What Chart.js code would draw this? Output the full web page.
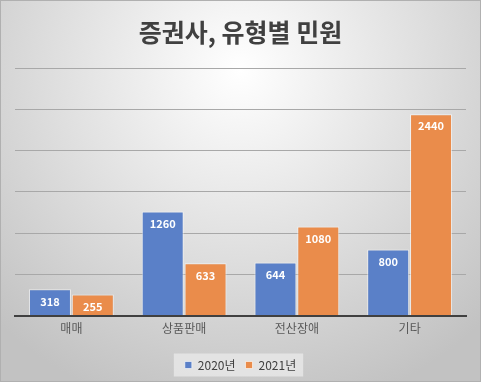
<!DOCTYPE html>
<html>
<head>
<meta charset="utf-8">
<script src="https://cdn.jsdelivr.net/npm/chart.js@4"></script>
<style>
  html, body { margin: 0; padding: 0; background: #fff; }
  #wrap { width: 481px; height: 382px; position: relative; }
</style>
</head>
<body>
<div id="wrap"><canvas id="c" width="481" height="382"></canvas></div>
<script>
const categories = ['매매', '상품판매', '전산장애', '기타'];
const seriesNames = ['2020년', '2021년'];
const values2020 = [318, 1260, 644, 800];
const values2021 = [255, 633, 1080, 2440];
const titleText = '증권사, 유형별 민원';

const bgPlugin = {
  id: 'bg',
  beforeDraw(chart) {
    const ctx = chart.ctx;
    const w = chart.width, h = chart.height;
    ctx.save();
    const g = ctx.createRadialGradient(240, 70, 0, 240, 70, 350);
    g.addColorStop(0, '#ffffff');
    g.addColorStop(1, '#c2c2c2');
    ctx.fillStyle = g;
    ctx.fillRect(0, 0, w, h);
    ctx.strokeStyle = '#b0b0b0';
    ctx.lineWidth = 1;
    ctx.strokeRect(0.5, 0.5, w - 1, h - 1);
    const lg = chart.legend;
    if (lg && lg.legendHitBoxes && lg.legendHitBoxes.length) {
      const hb = lg.legendHitBoxes;
      const x0 = hb[0].left - 11;
      const x1 = hb[hb.length - 1].left + hb[hb.length - 1].width + 7;
      const cy = hb[0].top + hb[0].height / 2;
      ctx.fillStyle = 'rgba(232,232,232,0.8)';
      ctx.fillRect(x0, cy - 11.5, x1 - x0, 23);
    }
    ctx.restore();
  }
};

const labelPlugin = {
  id: 'vals',
  afterDatasetsDraw(chart) {
    const ctx = chart.ctx;
    ctx.save();
    ctx.font = 'bold 11px "Noto Sans CJK KR", "Noto Sans", sans-serif';
    ctx.fillStyle = '#ffffff';
    ctx.textAlign = 'center';
    ctx.textBaseline = 'middle';
    chart.data.datasets.forEach((ds, di) => {
      const meta = chart.getDatasetMeta(di);
      meta.data.forEach((el, i) => {
        ctx.fillText(String(ds.data[i]), el.x, el.y + 12);
      });
    });
    ctx.restore();
  }
};

new Chart(document.getElementById('c'), {
  type: 'bar',
  data: {
    labels: categories,
    datasets: [
      { label: seriesNames[0], data: values2020, backgroundColor: '#5a80c8', borderColor: 'rgba(255,255,255,0.6)', borderWidth: 1 },
      { label: seriesNames[1], data: values2021, backgroundColor: '#ea8c4b', borderColor: 'rgba(255,255,255,0.6)', borderWidth: 1 }
    ]
  },
  options: {
    responsive: false,
    animation: false,
    devicePixelRatio: 1,
    layout: { padding: { left: 15, right: 15, top: 0, bottom: 1 } },
    datasets: { bar: { categoryPercentage: 0.76, barPercentage: 0.98 } },
    scales: {
      x: {
        grid: { display: false, drawTicks: false },
        border: { display: true, color: '#404040', width: 2 },
        ticks: { color: '#595959', padding: 6, font: { size: 12, family: '"Noto Sans CJK KR", sans-serif' } },
        afterFit(scale) { scale.height += 7; }
      },
      y: {
        min: 0, max: 3000,
        ticks: { display: false, stepSize: 500 },
        grid: { color: '#a8a8a8', lineWidth: 1, drawTicks: false },
        border: { display: false }
      }
    },
    plugins: {
      title: {
        display: true,
        text: titleText,
        color: '#404040',
        font: { size: 25, weight: 'bold', family: '"Noto Sans CJK KR", sans-serif' },
        padding: { top: 17, bottom: 21 }
      },
      legend: {
        position: 'bottom',
        labels: {
          boxWidth: 7, boxHeight: 7, padding: 10,
          color: '#404040',
          font: { size: 12, family: '"Noto Sans CJK KR", sans-serif' }
        }
      },
      tooltip: { enabled: false }
    }
  },
  plugins: [bgPlugin, labelPlugin]
});
</script>
</body>
</html>
